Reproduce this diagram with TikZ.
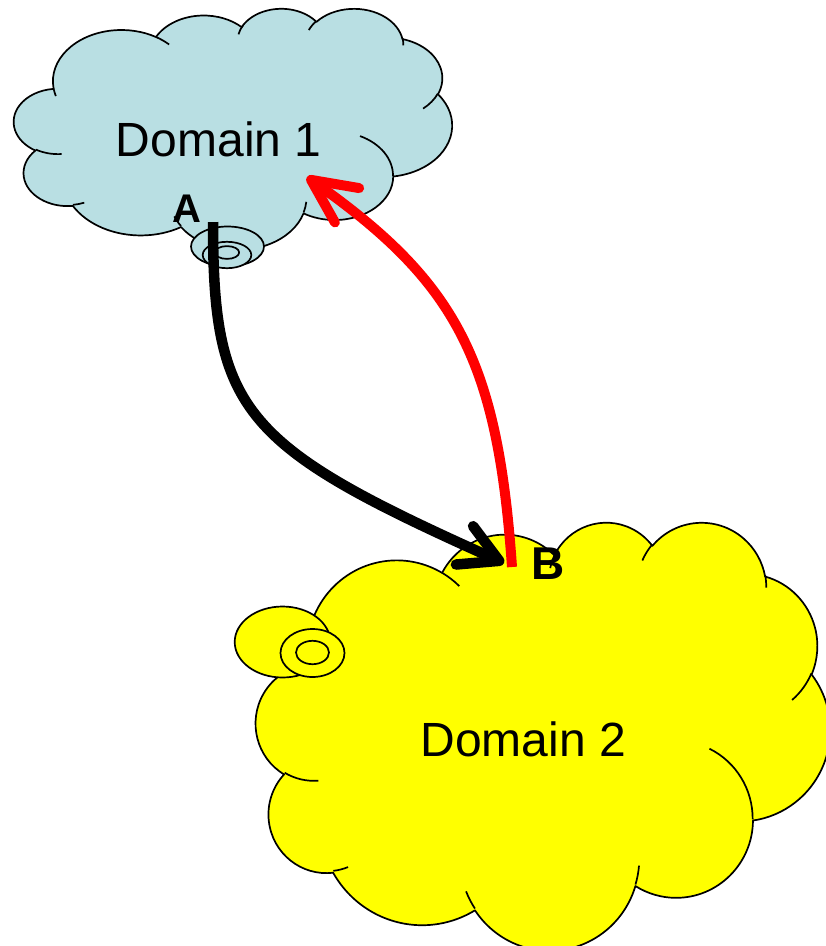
\documentclass[tikz,border=0pt]{standalone}
\usepackage{fontspec}
\setmainfont{Liberation Sans}
\usetikzlibrary{arrows.meta}

\definecolor{skyfill}{RGB}{185,223,227}
\definecolor{sunfill}{RGB}{255,255,0}
\definecolor{linkred}{RGB}{255,0,0}

% DrawingML arc angles are visual angles; TikZ wants the parametric ones
\newcommand\visang[3]{(#3)+mod(atan2((#1)*sin(#3),(#2)*cos(#3))-(#3)+900,360)-180}

\tikzset{
  lobe/.style n args={4}{insert path={
    arc[x radius=#1, y radius=#2,
        start angle={\visang{#1}{#2}{#3}},
        end angle={\visang{#1}{#2}{(#3)+(#4)}}]}},
  cloudline/.style={draw=black, line width=1.7pt, line join=round},
  domaintext/.style={font=\fontsize{48}{58}\selectfont, inner sep=0pt},
  pointlabel/.style={inner sep=0pt},
  link/.style={line width=10.5pt, line cap=butt},
}

% cloud outline on a 432 x 432 grid
\newcommand\cloudoutline{%
  (39.00,143.70)
  [lobe={67.53}{91.90}{-190.4875}{123.7805}]
  [lobe={53.33}{72.67}{-144.1024}{89.9452}]
  [lobe={43.65}{59.45}{-145.8079}{99.7230}]
  [lobe={48.57}{65.95}{-130.9861}{117.2417}]
  [lobe={53.33}{72.73}{-78.7089}{109.0269}]
  [lobe={67.75}{92.20}{-46.2673}{130.2690}]
  [lobe={57.85}{78.67}{0.6250}{114.0333}]
  [lobe={67.52}{92.15}{22.4516}{115.1726}]
  [lobe={77.20}{105.43}{66.2426}{75.7110}]
  [lobe={43.60}{59.18}{-274.9421}{146.7356}]
  [lobe={43.45}{59.45}{-246.8285}{152.5189}]
  -- cycle}

% inner folds between the lobes
\newcommand\cloudfolds{%
  (46.93,261.77) [lobe={43.45}{59.45}{86.7420}{26.4295}]
  (69.28,348.99) [lobe={43.60}{59.18}{73.6105}{11.4475}]
  (164.78,390.90) [lobe={67.52}{92.15}{137.6242}{14.0811}]
  (288.27,347.51) [lobe={67.52}{92.15}{6.4533}{15.9984}]
  (341.29,229.54) [lobe={57.85}{78.67}{-70.2924}{70.9174}]
  (417.98,153.54) [lobe={53.33}{72.73}{30.3180}{27.7515}]
  (383.24,54.26) [lobe={48.57}{65.95}{-13.7443}{14.8589}]
  (290.78,39.52) [lobe={48.57}{65.95}{-149.1815}{18.1954}]
  (221.41,47.20) [lobe={43.65}{59.45}{-163.4943}{20.5946}]
  (140.00,51.92) [lobe={67.53}{91.90}{-66.7070}{12.3194}]
  (41.27,157.89) [lobe={67.53}{91.90}{157.6544}{11.8582}]}

\begin{document}
\begin{tikzpicture}[x=1pt, y=-1pt]
  \useasboundingbox (0,0) rectangle (826,946);

  % Domain 1 cloud
  \begin{scope}[shift={(14,8)}, x=1.01389pt, y=-0.55787pt]
    \path[cloudline, fill=skyfill] \cloudoutline;
    \draw[cloudline] \cloudfolds;
  \end{scope}
  \draw[cloudline, fill=skyfill] (227.5,246.5) ellipse [x radius=36.5, y radius=20];
  \draw[cloudline, fill=skyfill] (227,255) ellipse [x radius=24.3, y radius=13.2];
  \draw[cloudline, fill=skyfill] (227,252.5) ellipse [x radius=12.2, y radius=6.4];

  % Domain 2 cloud
  \begin{scope}[shift={(256,521.3)}, x=1.32870pt, y=-0.99074pt]
    \path[cloudline, fill=sunfill] \cloudoutline;
    \draw[cloudline] \cloudfolds;
  \end{scope}
  \draw[cloudline, fill=sunfill] (282.5,642) ellipse [x radius=47.8, y radius=35.5];
  \draw[cloudline, fill=sunfill] (312.5,653) ellipse [x radius=32, y radius=24];
  \draw[cloudline, fill=sunfill] (312.5,652.5) ellipse [x radius=16.5, y radius=11.7];

  % captions
  \node[domaintext, anchor=base] (dom1) at (218.7,156.7) {Domain 1};
  \node[domaintext, anchor=base] (dom2) at (523.2,756.5) {Domain 2};
  \node[pointlabel, anchor=base west, font=\bfseries\fontsize{40}{48}\selectfont] (labA) at (172,222.5) {A};
  \node[pointlabel, anchor=base west, font=\bfseries\fontsize{46}{55}\selectfont] (labB) at (531.6,579) {B};

  % link end points
  \coordinate (pA) at (213,222);
  \coordinate (pB) at (512,567);
  \coordinate (pBtip) at (504,563);
  \coordinate (pD1) at (307,177);

  \draw[link, black, -{Straight Barb[length=38pt, width=42pt, round]}]
    (pA) .. controls +(0,189.9) and +(-262,-117.1) .. (pBtip);
  \draw[link, linkred, line width=10pt, -{Straight Barb[length=44pt, width=42pt, round]}]
    (pB) .. controls +(-14.4,-206.4) and +(149.7,105.6) .. (pD1);
\end{tikzpicture}
\end{document}
